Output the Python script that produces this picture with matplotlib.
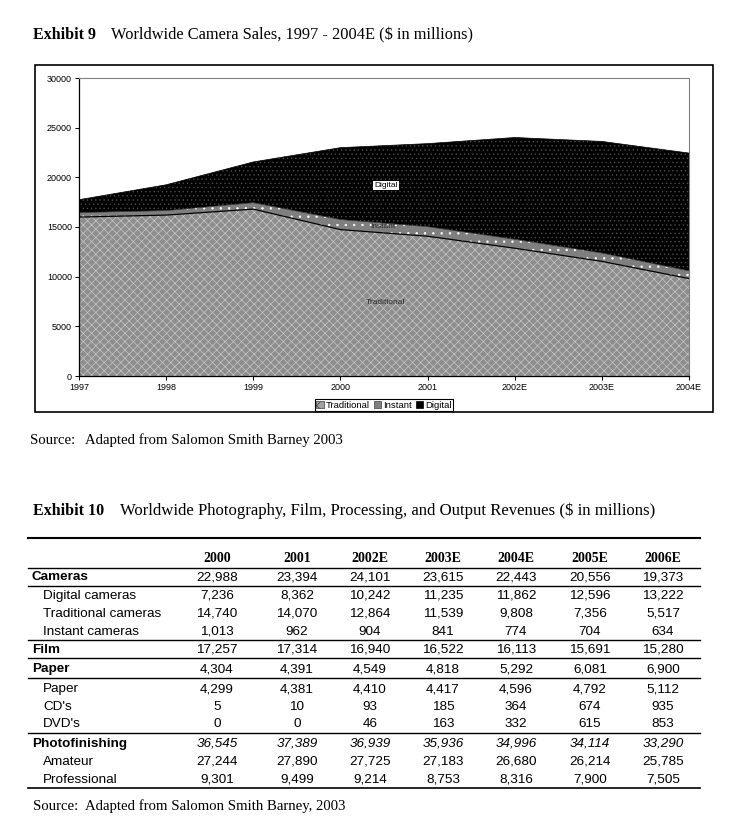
import numpy as np
import matplotlib.pyplot as plt
from matplotlib.patches import Rectangle, Patch
from matplotlib.lines import Line2D

# chart data (1997-1999, rest from the table)
years = ["1997", "1998", "1999", "2000", "2001", "2002E", "2003E", "2004E"]
traditional = [16000, 16200, 16800, 14740, 14070, 12864, 11539, 9808]
instant = [450, 450, 650, 1013, 962, 904, 841, 774]
digital = [1300, 2600, 4100, 7236, 8362, 10242, 11235, 11862]
yticks = [0, 5000, 10000, 15000, 20000, 25000, 30000]

# table data
table_years = ["2000", "2001", "2002E", "2003E", "2004E", "2005E", "2006E"]
row_labels = ["Cameras", "Digital cameras", "Traditional cameras", "Instant cameras",
              "Film", "Paper", "Paper", "CD's", "DVD's",
              "Photofinishing", "Amateur", "Professional"]
row_bold = [True, False, False, False, True, True, False, False, False, True, False, False]
row_values = [
    ["22,988", "23,394", "24,101", "23,615", "22,443", "20,556", "19,373"],
    ["7,236", "8,362", "10,242", "11,235", "11,862", "12,596", "13,222"],
    ["14,740", "14,070", "12,864", "11,539", "9,808", "7,356", "5,517"],
    ["1,013", "962", "904", "841", "774", "704", "634"],
    ["17,257", "17,314", "16,940", "16,522", "16,113", "15,691", "15,280"],
    ["4,304", "4,391", "4,549", "4,818", "5,292", "6,081", "6,900"],
    ["4,299", "4,381", "4,410", "4,417", "4,596", "4,792", "5,112"],
    ["5", "10", "93", "185", "364", "674", "935"],
    ["0", "0", "46", "163", "332", "615", "853"],
    ["36,545", "37,389", "36,939", "35,936", "34,996", "34,114", "33,290"],
    ["27,244", "27,890", "27,725", "27,183", "26,680", "26,214", "25,785"],
    ["9,301", "9,499", "9,214", "8,753", "8,316", "7,900", "7,505"],
]
row_italic = [False] * 9 + [True, False, False]

W, H = 738, 834
SERIF = "Liberation Serif"
SANS = "Liberation Sans"
plt.rcParams["hatch.linewidth"] = 0.5


def fx(x):
    return x / W


def fy(y):
    return 1 - y / H


fig = plt.figure(figsize=(W / 100, H / 100), dpi=100)

# ---- Exhibit 9 ----
fig.text(fx(33), fy(35), "Exhibit 9", family=SERIF, weight="bold", size=11.5, va="center")
fig.text(fx(111), fy(35), "Worldwide Camera Sales, 1997 - 2004E ($ in millions)",
         family=SERIF, size=11.8, va="center")

fig.add_artist(Rectangle((fx(35), fy(412)), (713 - 35) / W, (412 - 65) / H,
                         transform=fig.transFigure, fill=False, edgecolor="black", lw=1.2))

ax = fig.add_axes([fx(79), fy(376), (689 - 79) / W, (376 - 78) / H])
x = np.arange(len(years))
trad = np.array(traditional)
inst = trad + np.array(instant)
digi = inst + np.array(digital)

ax.fill_between(x, 0, trad, facecolor="#8e8e8e", edgecolor="#c6c6c6", hatch="xxxx", lw=0)
ax.fill_between(x, trad, inst, facecolor="#7f7f7f", edgecolor="white", hatch="..", lw=0)
ax.fill_between(x, inst, digi, facecolor="black", edgecolor="#4a4a4a", hatch="....", lw=0)
ax.plot(x, trad, color="black", lw=0.9)
ax.plot(x, inst, color="#333333", lw=0.5)
ax.plot(x, digi, color="black", lw=0.5)

ax.set_xlim(0, len(years) - 1)
ax.set_ylim(0, 30000)
ax.set_xticks(x)
ax.set_xticklabels(years)
ax.set_yticks(yticks)
for lab in ax.get_xticklabels() + ax.get_yticklabels():
    lab.set_family(SANS)
    lab.set_fontsize(6.5)
ax.tick_params(direction="out", length=3, width=0.7, pad=2)
for s in ["left", "bottom"]:
    ax.spines[s].set_color("black")
    ax.spines[s].set_linewidth(0.9)
for s in ["top", "right"]:
    ax.spines[s].set_color("#808080")
    ax.spines[s].set_linewidth(0.8)

ax.text(3.52, 19200, "Digital", family=SANS, size=6, ha="center", va="center",
        bbox=dict(facecolor="white", edgecolor="none", pad=0.8))
ax.text(3.49, 15000, "Instant", family=SANS, size=6, ha="center", va="center", color="#2a2a2a")
ax.text(3.52, 7350, "Traditional", family=SANS, size=6, ha="center", va="center", color="#2a2a2a")

handles = [Patch(facecolor="#a0a0a0", edgecolor="#404040", hatch="xxx", lw=0.5),
           Patch(facecolor="#7f7f7f", edgecolor="#404040", lw=0.5),
           Patch(facecolor="black", edgecolor="black", lw=0.5)]
leg = fig.legend(handles, ["Traditional", "Instant", "Digital"], loc="center",
                 bbox_to_anchor=(fx(384), fy(405)), ncol=3, prop={"family": SANS, "size": 6.8},
                 handlelength=0.8, handleheight=0.8, handletextpad=0.2, columnspacing=0.4,
                 borderpad=0.12, fancybox=False, edgecolor="black", framealpha=1)
leg.get_frame().set_linewidth(0.8)

fig.text(fx(30), fy(440), "Source:", family=SERIF, size=10.6, va="center")
fig.text(fx(85), fy(440), "Adapted from Salomon Smith Barney 2003", family=SERIF, size=10.6, va="center")

# ---- Exhibit 10 ----
fig.text(fx(33), fy(511), "Exhibit 10", family=SERIF, weight="bold", size=11.5, va="center")
fig.text(fx(120), fy(511), "Worldwide Photography, Film, Processing, and Output Revenues ($ in millions)",
         family=SERIF, size=12.1, va="center")

col_x = [217, 297, 370, 443, 516, 590, 663]
row_y = [577, 596, 614, 632, 650, 669, 689, 707, 724, 744, 762, 780]
line_y = [538, 567.5, 586, 640, 658, 678, 733, 788]
line_w = [1.5, 1, 1, 1, 1, 1, 1, 1.2]

for cx, yr in zip(col_x, table_years):
    fig.text(fx(cx), fy(559), yr, family=SERIF, weight="bold", size=10, ha="center", va="center")

for ly, lw in zip(line_y, line_w):
    fig.add_artist(Line2D([fx(28), fx(700)], [fy(ly), fy(ly)], color="black", lw=lw,
                          transform=fig.transFigure))

for label, bold, vals, ital, ry in zip(row_labels, row_bold, row_values, row_italic, row_y):
    lx = 32 if bold else 43
    fig.text(fx(lx), fy(ry), label, family=SANS, weight="bold" if bold else "normal",
             size=9.7, va="center")
    for cx, v in zip(col_x, vals):
        fig.text(fx(cx), fy(ry), v, family=SANS, size=9.7, ha="center", va="center",
                 style="italic" if ital else "normal")

fig.text(fx(33), fy(806), "Source:", family=SERIF, size=10.6, va="center")
fig.text(fx(85), fy(806), "Adapted from Salomon Smith Barney, 2003", family=SERIF, size=10.6, va="center")

fig.savefig("out.png", dpi=100, facecolor="white")
